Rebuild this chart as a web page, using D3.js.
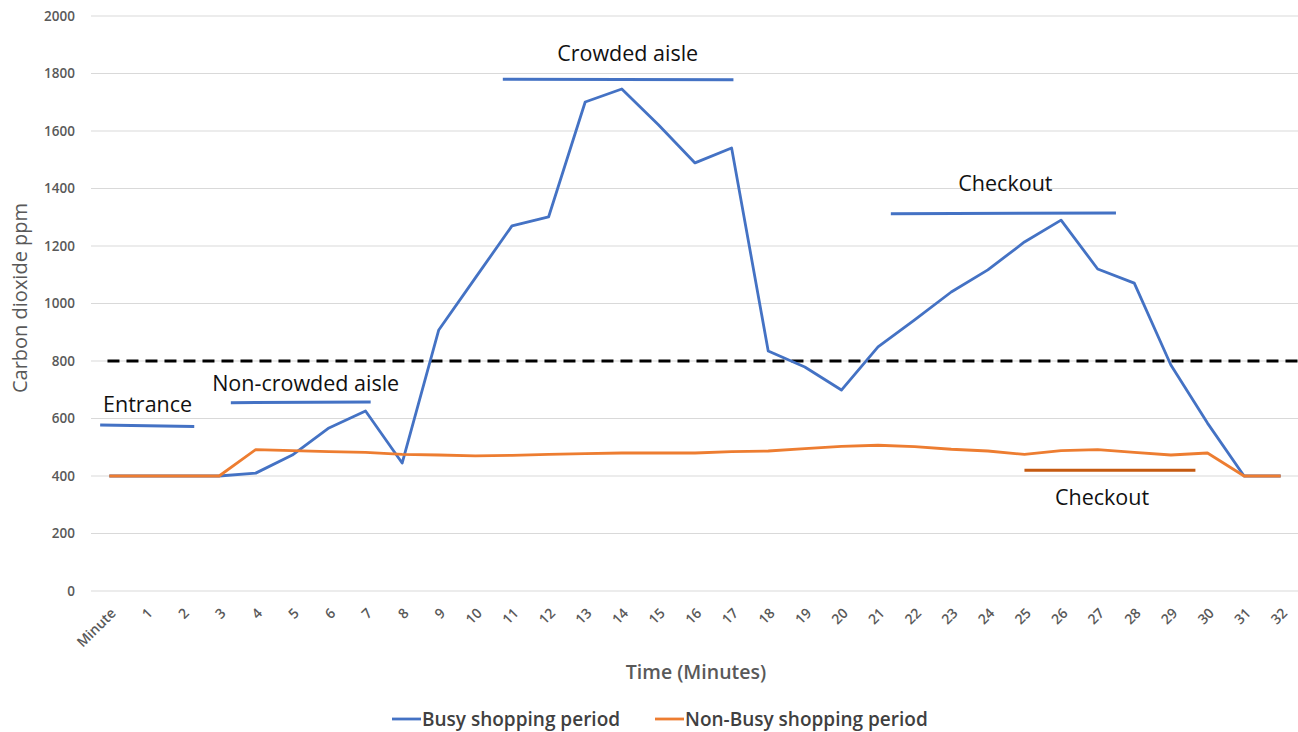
<!DOCTYPE html>
<html><head><meta charset="utf-8">
<script src="https://cdn.jsdelivr.net/npm/d3@7"></script>
<style>body{margin:0;background:#fff}svg{display:block}</style>
</head><body>
<script>
const categories = ["Minute","1","2","3","4","5","6","7","8","9","10","11","12","13","14","15","16","17","18","19","20","21","22","23","24","25","26","27","28","29","30","31","32"];
const busy = [400,400,400,400,410,473,567,626,445,908,1089,1270,1301,1701,1746,1622,1489,1541,835,779,699,849,943,1040,1117,1214,1290,1120,1071,786,584,400,400];
const nonBusy = [400,400,400,400,492,488,485,482,475,473,470,472,475,478,480,480,480,485,487,495,503,507,502,493,487,475,488,492,482,473,480,400,400];
const yTicks = [0,200,400,600,800,1000,1200,1400,1600,1800,2000];
const threshold = 800;
const seriesNames = ["Busy shopping period","Non-Busy shopping period"];
// annotations: start/end in category index units, value in ppm
const annotLines = [
  {x0:-0.25,x1:2.32,v0:577,v1:572,color:"#4472C4"},
  {x0:3.32,x1:7.14,v0:655,v1:657,color:"#4472C4"},
  {x0:10.75,x1:17.05,v0:1780,v1:1778,color:"#4472C4"},
  {x0:21.35,x1:27.5,v0:1312,v1:1315,color:"#4472C4"},
  {x0:25.0,x1:29.67,v0:420,v1:420,color:"#C55A11"}
];
const annotTexts = [
  {t:"Entrance",x:-0.17,v:622,anchor:"start"},
  {t:"Non-crowded aisle",x:2.81,v:697,anchor:"start"},
  {t:"Crowded aisle",x:14.16,v:1843,anchor:"middle"},
  {t:"Checkout",x:24.48,v:1390,anchor:"middle"},
  {t:"Checkout",x:27.12,v:299,anchor:"middle"}
];

const W=1298,H=732;
const svg=d3.select("body").append("svg").attr("width",W).attr("height",H);
const font="'Open Sans', Lato, sans-serif";
const mLeft=91,mRight=1299,mTop=16,mBottom=591;
const x=d3.scalePoint().domain(categories).range([mLeft,mRight]).padding(0.5);
const xi=d3.scaleLinear().domain([0,categories.length-1]).range([x(categories[0]),x(categories[categories.length-1])]);
const y=d3.scaleLinear().domain([0,2000]).range([mBottom,mTop]);

// grid
svg.append("g").selectAll("line").data(yTicks).join("line")
  .attr("x1",mLeft).attr("x2",mRight-1).attr("y1",d=>y(d)).attr("y2",d=>y(d))
  .attr("stroke","#d9d9d9").attr("stroke-width",1);

// y axis labels
const yAxis=d3.axisLeft(y).tickValues(yTicks).tickFormat(d3.format("d")).tickSize(0).tickPadding(16);
const gy=svg.append("g").attr("transform",`translate(${mLeft},0)`).call(yAxis);
gy.select(".domain").remove();
gy.selectAll("text").attr("font-family",font).attr("font-size",13.5).attr("font-weight",600).attr("fill","#595959");

// x axis labels
const xAxis=d3.axisBottom(x).tickSize(0).tickPadding(0);
const gx=svg.append("g").attr("transform",`translate(0,${mBottom})`).call(xAxis);
gx.select(".domain").remove();
gx.selectAll("text").attr("font-family",font).attr("font-size",14).attr("font-weight",600).attr("fill","#595959")
  .attr("text-anchor","end").attr("dy",0).attr("y",0)
  .attr("transform","translate(7,23) rotate(-45)");

// threshold
svg.append("line").attr("x1",xi(-0.05)).attr("x2",mRight-1).attr("y1",y(threshold)).attr("y2",y(threshold))
  .attr("stroke","#000").attr("stroke-width",3).attr("stroke-dasharray","12,7");

// series
const line=d3.line().x((d,i)=>x(categories[i])).y(d=>y(d));
svg.append("path").datum(busy).attr("d",line).attr("fill","none").attr("stroke","#4472C4").attr("stroke-width",2.8).attr("stroke-linejoin","round");
svg.append("path").datum(nonBusy).attr("d",line).attr("fill","none").attr("stroke","#ED7D31").attr("stroke-width",2.8).attr("stroke-linejoin","round");

// annotations
svg.append("g").selectAll("line").data(annotLines).join("line")
  .attr("x1",d=>xi(d.x0)).attr("x2",d=>xi(d.x1)).attr("y1",d=>y(d.v0)).attr("y2",d=>y(d.v1))
  .attr("stroke",d=>d.color).attr("stroke-width",3);
svg.append("g").selectAll("text").data(annotTexts).join("text")
  .attr("x",d=>xi(d.x)).attr("y",d=>y(d.v)).attr("text-anchor",d=>d.anchor)
  .attr("font-family",font).attr("font-size",21.5).attr("fill","#111").text(d=>d.t);

// axis titles
svg.append("text").attr("x",696).attr("y",679).attr("text-anchor","middle")
  .attr("font-family",font).attr("font-size",19.5).attr("font-weight",600).attr("fill","#595959").text("Time (Minutes)");
svg.append("text").attr("transform","translate(27,298) rotate(-90)").attr("text-anchor","middle")
  .attr("font-family",font).attr("font-size",20).attr("font-weight",400).attr("fill","#595959").text("Carbon dioxide ppm");

// legend
const colors=["#4472C4","#ED7D31"];
const lx=[392,655];
const lg=svg.append("g").selectAll("g").data(seriesNames).join("g").attr("transform",(d,i)=>`translate(${lx[i]},719)`);
lg.append("line").attr("x1",0).attr("x2",29).attr("y1",0).attr("y2",0).attr("stroke",(d,i)=>colors[i]).attr("stroke-width",2.8);
lg.append("text").attr("x",30).attr("y",7).attr("font-family",font).attr("font-size",19).attr("font-weight",600).attr("fill","#404040").text(d=>d);
</script>
</body></html>
